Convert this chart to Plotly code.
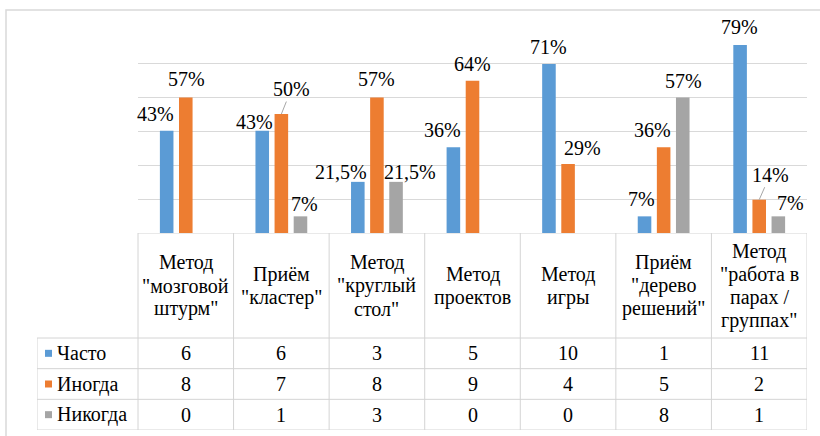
import plotly.graph_objects as go

# --- data -------------------------------------------------------------
categories = [
    'Метод\n"мозговой\nштурм"',
    'Приём\n"кластер"',
    'Метод\n"круглый\nстол"',
    'Метод\nпроектов',
    'Метод\nигры',
    'Приём\n"дерево\nрешений"',
    'Метод\n"работа в\nпарах /\nгруппах"',
]
series_names = ["Часто", "Иногда", "Никогда"]

often_count = [6, 6, 3, 5, 10, 1, 11]
sometimes_count = [8, 7, 8, 9, 4, 5, 2]
never_count = [0, 1, 3, 0, 0, 8, 1]

often_pct = [43, 43, 21.5, 36, 71, 7, 79]
sometimes_pct = [57, 50, 57, 64, 29, 36, 14]
never_pct = [0, 7, 21.5, 0, 0, 57, 7]

respondents = 14

# --- styling ------------------------------------------------------------
colors = ["#5B9BD5", "#ED7D31", "#A5A5A5"]
FONT = "Liberation Serif"
TXT = dict(family=FONT, size=20, color="#000000")
W, H = 820, 436

counts = [often_count, sometimes_count, never_count]
pcts = [often_pct, sometimes_pct, never_pct]
x_names = [c.replace("\n", " ") for c in categories]
n = len(categories)

# pixel frame of the chart and the data table
plot_left, plot_right = 138, 807
plot_top, plot_bottom = 29, 233
table_left, table_bottom = 37, 430
row_h = (table_bottom - 338) / 3.0
col_w = (plot_right - plot_left) / n
hdr = (338 - plot_bottom) / row_h          # header height in row units
left_w = (plot_left - table_left) / col_w  # legend column width in column units

# label offsets in pixels (relative to the top centre of each bar)
bar_shift = [-19, 0, 19]
label_dx = [[-11, -8, -17, -11, -1, -3, -1],
            [1, 10, 0, 0, 14, -11, 11],
            [0, 4, 14, 0, 0, 1, 12]]
label_dy = [[17, 9, 10, 17, 17, 17, 18],
            [18, 25, 18, 17, 16, 17, 25],
            [0, 12, 10, 0, 0, 16, 13]]
leaders = {(1, 1), (1, 6)}

unit = 100.0 / respondents

fig = go.Figure()

for s in range(3):
    fig.add_trace(go.Bar(
        x=x_names, y=pcts[s], name=series_names[s],
        marker=dict(color=colors[s], line=dict(width=0)),
        xaxis="x", yaxis="y", hoverinfo="skip",
    ))

annotations = []

def fmt(v):
    return ("%g%%" % v).replace(".", ",")

for s in range(3):
    for i in range(n):
        v = pcts[s][i]
        if v == 0:
            continue
        lead = (s, i) in leaders
        annotations.append(dict(
            x=x_names[i], y=v, xref="x", yref="y",
            xshift=bar_shift[s],
            ax=label_dx[s][i], ay=-label_dy[s][i],
            text=fmt(v), showarrow=True, arrowhead=0, arrowwidth=1,
            arrowcolor="#a6a6a6" if lead else "rgba(0,0,0,0)",
            standoff=0, startstandoff=0,
            font=TXT,
        ))

# --- data table ----------------------------------------------------------
line_gap = 23
for i, cat in enumerate(categories):
    lines = cat.split("\n")
    k_n = len(lines)
    for k, ln in enumerate(lines):
        annotations.append(dict(
            x=i, y=hdr / 2, xref="x2", yref="y2",
            yshift=((k_n - 1) / 2 - k) * line_gap,
            text=ln, showarrow=False, font=TXT,
        ))

def px_to_x2(px):
    return -0.5 - left_w + (px - table_left) / col_w

for s in range(3):
    annotations.append(dict(
        x=px_to_x2(55), y=hdr + 0.5 + s, xref="x2", yref="y2",
        xanchor="left", text=series_names[s], showarrow=False, font=TXT,
    ))
    for i in range(n):
        annotations.append(dict(
            x=i, y=hdr + 0.5 + s, xref="x2", yref="y2",
            text=str(counts[s][i]), showarrow=False, font=TXT,
        ))

# legend keys inside the table
fig.add_trace(go.Scatter(
    x=[px_to_x2(48.5)] * 3, y=[hdr + 0.5 + s for s in range(3)],
    mode="markers", xaxis="x2", yaxis="y2", hoverinfo="skip",
    marker=dict(symbol="square", size=7, color=colors, line=dict(width=0)),
))

grid_col = "#d4d4d4"
shapes = []
shapes.append(dict(type="line", xref="x2", yref="y2", x0=-0.5, x1=n - 0.5,
                   y0=0, y1=0, line=dict(color=grid_col, width=1)))
for r in range(4):
    shapes.append(dict(type="line", xref="x2", yref="y2",
                       x0=-0.5 - left_w, x1=n - 0.5, y0=hdr + r, y1=hdr + r,
                       line=dict(color=grid_col, width=1)))
for k in range(n + 1):
    shapes.append(dict(type="line", xref="x2", yref="y2",
                       x0=k - 0.5, x1=k - 0.5, y0=0, y1=hdr + 3,
                       line=dict(color=grid_col, width=1)))
shapes.append(dict(type="line", xref="x2", yref="y2",
                   x0=-0.5 - left_w, x1=-0.5 - left_w, y0=hdr, y1=hdr + 3,
                   line=dict(color=grid_col, width=1)))
# chart area frame
shapes.append(dict(type="rect", xref="paper", yref="paper",
                   x0=6 / W, x1=1.05, y0=-0.05, y1=1 - 10 / H,
                   line=dict(color="#d9d9d9", width=1.5)))

fig.update_layout(
    width=W, height=H,
    margin=dict(l=0, r=0, t=0, b=0),
    paper_bgcolor="white", plot_bgcolor="white",
    showlegend=False,
    barmode="group", bargap=0.40, bargroupgap=0.29,
    xaxis=dict(domain=[plot_left / W, plot_right / W], showticklabels=False,
               showgrid=False, zeroline=False, showline=False, ticks="",
               range=[-0.5, n - 0.5], fixedrange=True),
    yaxis=dict(domain=[1 - plot_bottom / H, 1 - plot_top / H],
               range=[0, 12 * unit * 1.0005], tickmode="array",
               tickvals=[2 * unit * k for k in range(1, 7)],
               showticklabels=False, showgrid=True, gridcolor="#d9d9d9",
               gridwidth=1, zeroline=False, showline=False, ticks="",
               fixedrange=True),
    xaxis2=dict(domain=[table_left / W, plot_right / W],
                range=[-0.5 - left_w, n - 0.5], visible=False,
                fixedrange=True),
    yaxis2=dict(domain=[1 - table_bottom / H, 1 - plot_bottom / H],
                range=[hdr + 3, 0], visible=False, fixedrange=True),
    annotations=annotations,
    shapes=shapes,
)

fig.write_html("out.html")
